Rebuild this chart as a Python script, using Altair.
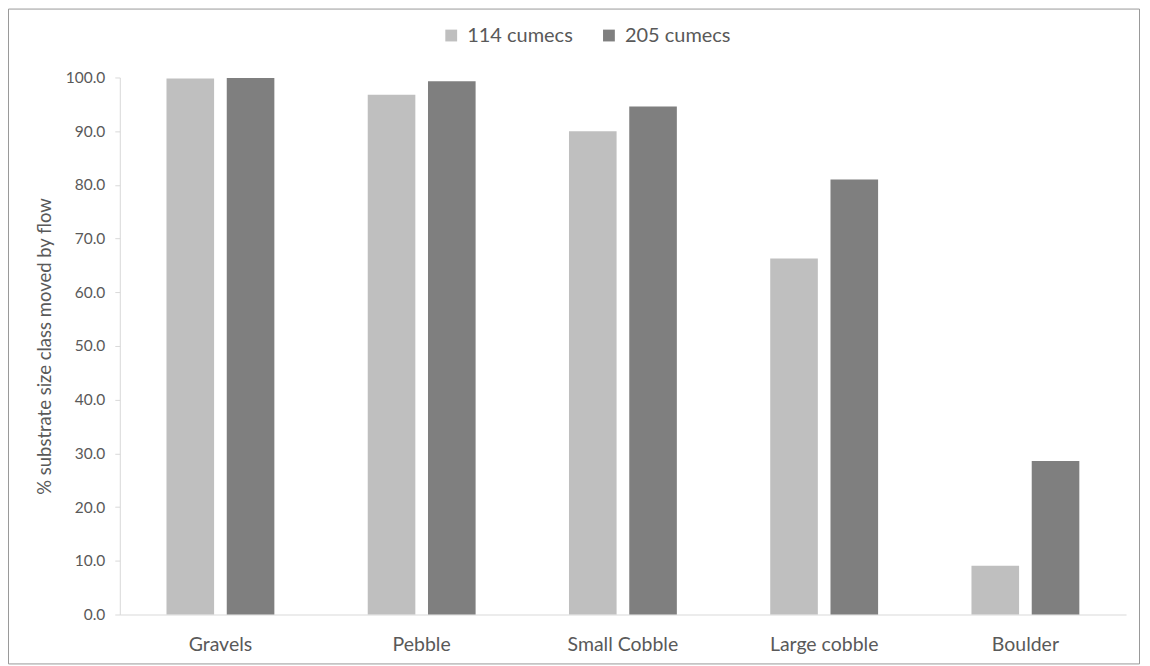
import altair as alt
import pandas as pd

categories = ["Gravels", "Pebble", "Small Cobble", "Large cobble", "Boulder"]
series = ["114 cumecs", "205 cumecs"]
values_114 = [99.8, 96.8, 90.0, 66.3, 9.1]
values_205 = [99.9, 99.3, 94.6, 81.0, 28.6]
colors = ["#bfbfbf", "#7f7f7f"]
yticks = [0, 10, 20, 30, 40, 50, 60, 70, 80, 90, 100]

rows = []
for c, a, b in zip(categories, values_114, values_205):
    rows.append({"category": c, "series": series[0], "value": a})
    rows.append({"category": c, "series": series[1], "value": b})
df = pd.DataFrame(rows)

FONT = "Lato"
TXT = "#595959"

bars = alt.Chart(df).mark_bar().encode(
    x=alt.X(
        "category:N",
        sort=categories,
        scale=alt.Scale(paddingInner=0.464, paddingOuter=0.232),
        axis=alt.Axis(
            title=None, labelAngle=0, ticks=False, domainColor="#d9d9d9",
            labelColor=TXT, labelFontSize=19.5, labelPadding=21, labelFont=FONT,
        ),
    ),
    xOffset=alt.XOffset("series:N", sort=series,
                        scale=alt.Scale(paddingInner=0.21, paddingOuter=0)),
    y=alt.Y(
        "value:Q",
        scale=alt.Scale(domain=[0, 100], nice=False),
        axis=alt.Axis(
            values=yticks, format=".1f", grid=False,
            title="% substrate size class moved by flow",
            titleFont=FONT, titleFontSize=18.5, titleFontWeight="normal",
            titleColor=TXT, titlePadding=11,
            labelFont=FONT, labelFontSize=15.5, labelColor=TXT, labelPadding=10,
            domainColor="#d9d9d9", tickColor="#d9d9d9", tickSize=5,
        ),
    ),
    color=alt.Color(
        "series:N",
        scale=alt.Scale(domain=series, range=colors),
        legend=alt.Legend(
            title=None, orient="none", direction="horizontal",
            legendX=322, legendY=-52, symbolType="square", symbolSize=140,
            symbolStrokeWidth=0, labelFont=FONT, labelFontSize=20,
            labelColor=TXT, columnPadding=26, symbolOffset=0, labelOffset=6,
        ),
    ),
)

border = alt.Chart(pd.DataFrame({"a": [0]})).mark_rect(
    fillOpacity=0, stroke="#999999", strokeWidth=1
).encode(
    x=alt.value(-111.5), x2=alt.value(1021.5),
    y=alt.value(-68.5), y2=alt.value(587.5),
)

chart = alt.layer(border, bars).properties(
    width=1008, height=538,
    padding={"left": 112, "top": 69, "right": 16, "bottom": 50},
    autosize=alt.AutoSizeParams(type="none"),
).configure_view(stroke=None)

chart.save("out.html", embed_options={"renderer": "svg", "actions": False})
